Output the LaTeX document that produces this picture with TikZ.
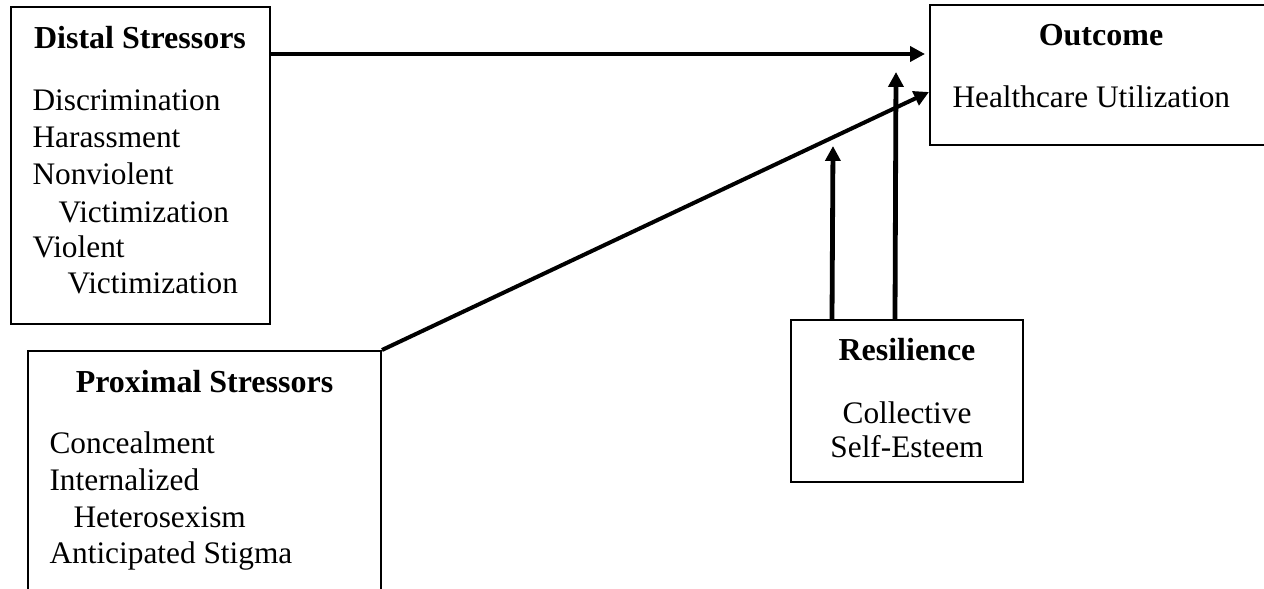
\documentclass[tikz,border=0pt]{standalone}
\usepackage{fontspec}
\setmainfont{Liberation Serif}
\usetikzlibrary{arrows.meta,calc,fit}
\begin{document}
\begin{tikzpicture}[x=0.375pt,y=-0.375pt,
  box/.style={draw, line width=0.75pt, inner sep=0pt, rectangle},
  arr/.style={line width=1.5pt, -{Triangle[length=5.6pt,width=5.6pt]}},
  varr/.style={arr, line width=1.8pt},
  txt/.style={inner sep=0pt, font=\fontsize{11.75}{13.8}\selectfont},
  ttl/.style={inner sep=0pt, font=\fontsize{12}{14}\selectfont\bfseries}]
\useasboundingbox (0,0) rectangle (1264,589);
\clip (0,0) rectangle (1264,589);
% boxes
\node[box, fit={(10.5,7) (270,324)}] (distal) {};
\node[box, fit={(930,5) (1300,145)}] (outcome) {};
\node[box, fit={(28,351) (381,640)}] (proximal) {};
\node[box, fit={(791,320) (1023,482)}] (resil) {};
% texts
\node[ttl, anchor=base] (dt) at (140,48) {Distal Stressors};
\node[txt, anchor=base west] (d1t) at (32,110) {Discrimination};
\node[txt, anchor=base west] (d2t) at (32,147) {Harassment};
\node[txt, anchor=base west] (d3t) at (32,184) {Nonviolent};
\node[txt, anchor=base west] (d4t) at (58,222) {Victimization};
\node[txt, anchor=base west] (d5t) at (32,257) {Violent};
\node[txt, anchor=base west] (d6t) at (67,293) {Victimization};
\node[ttl, anchor=base] (pt) at (204.5,392) {Proximal Stressors};
\node[txt, anchor=base west] (p1t) at (49,453) {Concealment};
\node[txt, anchor=base west] (p2t) at (49,490) {Internalized};
\node[txt, anchor=base west] (p3t) at (73,527) {Heterosexism};
\node[txt, anchor=base west] (p4t) at (49,563) {Anticipated Stigma};
\node[ttl, anchor=base] (ot) at (1101,45) {Outcome};
\node[txt, anchor=base west] (o1t) at (952,107) {Healthcare Utilization};
\node[ttl, anchor=base] (rt) at (907,360) {Resilience};
\node[txt, anchor=base] (r1t) at (907,423) {Collective};
\node[txt, anchor=base] (r2t) at (907,457) {Self-Esteem};
% connectors
\coordinate (ds) at ($(distal.north east)+(0,48)$);
\draw[arr, shorten >=1.5pt] (ds) -- (ds -| outcome.west);
\coordinate (oe) at ($(outcome.north west)+(0,88)$);
\draw[arr] (proximal.north east) -- (oe);
\coordinate (m1) at (833,146);
\coordinate (m2) at (896,72);
\draw[varr] ($(resil.north west)+(42,0)$) -- (m1);
\draw[varr] ($(resil.north west)+(105,0)$) -- (m2);
\end{tikzpicture}
\end{document}
